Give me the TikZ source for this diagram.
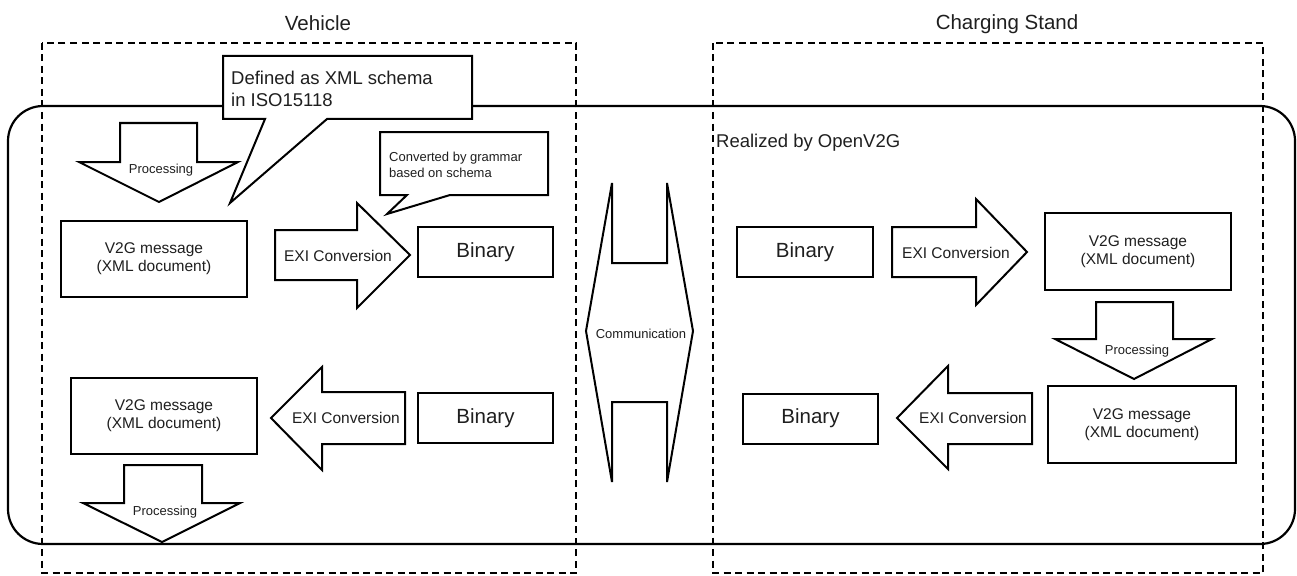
\documentclass[tikz,border=0pt]{standalone}
\usepackage{fontspec}
\setmainfont{Liberation Sans}
\begin{document}
\begin{tikzpicture}[x=1pt,y=-1pt,
  ln/.style={draw, line width=2pt, line join=miter, fill=white},
  blk/.style={draw, line width=2pt, fill=white, inner sep=0pt, align=center},
  lbl/.style={inner sep=0pt, align=center, text=black!88},
  dbox/.style={draw, line width=1.3pt, dash pattern=on 7pt off 4.5pt},
  fbin/.style={font=\fontsize{20.5}{24}\selectfont},
  fv2g/.style={font=\fontsize{15.5}{18}\selectfont},
  fexi/.style={font=\fontsize{15.5}{18}\selectfont},
  fproc/.style={font=\fontsize{13}{15}\selectfont},
  ftitle/.style={font=\fontsize{20.5}{24}\selectfont},
  fbig/.style={font=\fontsize{18.5}{22}\selectfont},
  fsmall/.style={font=\fontsize{13}{16.5}\selectfont},
]
\useasboundingbox (0,0) rectangle (1297,575);

% zones
\draw[dbox] (42,43) rectangle (576,573);
\draw[dbox] (713,43) rectangle (1263,573);
\node[lbl, ftitle] (tveh) at (318,23) {Vehicle};
\node[lbl, ftitle] (tcs) at (1007,24) {Charging Stand};

% OpenV2G frame
\draw[line width=2.2pt, rounded corners=35pt] (8,106) rectangle (1295,544);
\node[lbl, fbig, anchor=west] (real) at (716,143) {Realized by OpenV2G};

% boxes
\node[blk, lbl, draw, fill=white, fv2g, minimum width=186pt, minimum height=76pt] (v2g1) at (154,259) {V2G message\\(XML document)};
\node[blk, lbl, draw, fill=white, fbin, minimum width=135pt, minimum height=50pt] (bin1) at (485.5,252) {Binary};
\node[blk, lbl, draw, fill=white, fv2g, minimum width=186pt, minimum height=76pt] (v2g2) at (164,416) {V2G message\\(XML document)};
\node[blk, lbl, draw, fill=white, fbin, minimum width=135pt, minimum height=50pt] (bin2) at (485.5,418) {Binary};
\node[blk, lbl, draw, fill=white, fbin, minimum width=136pt, minimum height=50pt] (bin3) at (805,252) {Binary};
\node[blk, lbl, draw, fill=white, fv2g, minimum width=186pt, minimum height=77pt] (v2g3) at (1138,251.5) {V2G message\\(XML document)};
\node[blk, lbl, draw, fill=white, fv2g, minimum width=188pt, minimum height=77pt] (v2g4) at (1142,424.5) {V2G message\\(XML document)};
\node[blk, lbl, draw, fill=white, fbin, minimum width=135pt, minimum height=50pt] (bin4) at (810.5,418.5) {Binary};

% processing arrows (down)
\draw[ln] (120,123) -- (197,123) -- (197,162) -- (238,162) -- (159,202) -- (79,162) -- (120,162) -- cycle;
\node[lbl, fproc] (p1) at (161,170) {Processing};
\draw[ln] (1096,302) -- (1173,302) -- (1173,339) -- (1212,339) -- (1134,379) -- (1055,339) -- (1096,339) -- cycle;
\node[lbl, fproc] (p2) at (1137,351) {Processing};
\draw[ln] (124,465) -- (202,465) -- (202,503) -- (240,503) -- (162,542) -- (83,503) -- (124,503) -- cycle;
\node[lbl, fproc] (p3) at (165,512) {Processing};

% EXI arrows
\draw[ln] (275,230) -- (357,230) -- (357,203) -- (410,255) -- (357,308) -- (357,280) -- (275,280) -- cycle;
\node[lbl, fexi] (e1) at (338,256) {EXI Conversion};
\draw[ln] (892,227) -- (976,227) -- (976,199) -- (1027,252) -- (976,305) -- (976,277) -- (892,277) -- cycle;
\node[lbl, fexi] (e2) at (956,253) {EXI Conversion};
\draw[ln] (405,392) -- (322,392) -- (322,367) -- (271,418) -- (322,470) -- (322,444) -- (405,444) -- cycle;
\node[lbl, fexi] (e3) at (346,418) {EXI Conversion};
\draw[ln] (1032,393) -- (948,393) -- (948,366) -- (897,418) -- (948,469) -- (948,444) -- (1032,444) -- cycle;
\node[lbl, fexi] (e4) at (973,418) {EXI Conversion};

% communication
\draw[ln] (612,183) -- (612,263) -- (667,263) -- (667,183) -- (693,331) -- (667,482) -- (667,402) -- (612,402) -- (612,482) -- (586,331) -- cycle;
\node[lbl, fproc] (comm) at (641,334) {Communication};

% callouts
\draw[ln] (223,56) -- (472,56) -- (472,119) -- (327,119) -- (230,203) -- (265,119) -- (223,119) -- cycle;
\node[lbl, fbig, anchor=west, align=left] (c1) at (231,89) {Defined as XML schema\\in ISO15118};
\draw[ln] (380,132) -- (548,132) -- (548,195) -- (450,195) -- (387,214) -- (407,195) -- (380,195) -- cycle;
\node[lbl, fsmall, anchor=west, align=left] (c2) at (389,165) {Converted by grammar\\based on schema};
\end{tikzpicture}
\end{document}
